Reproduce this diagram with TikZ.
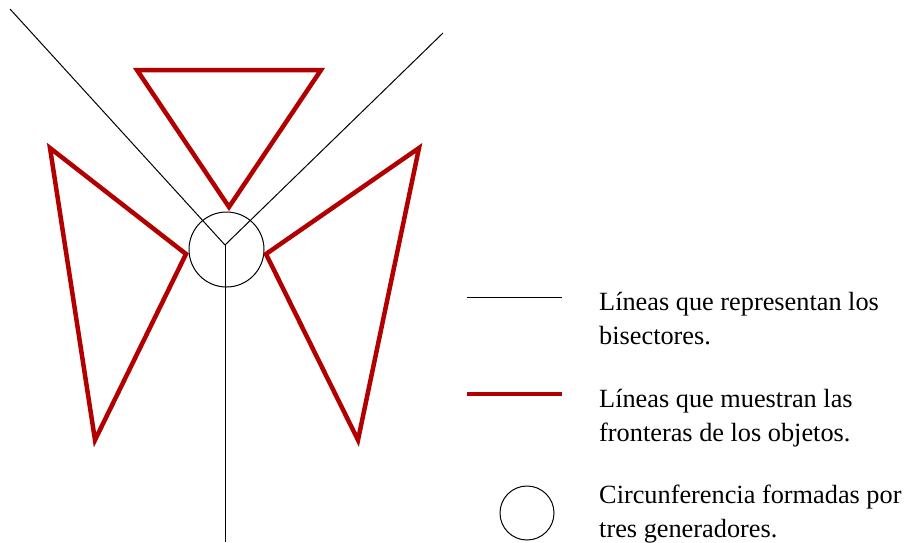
\documentclass[tikz,border=0pt]{standalone}
\usepackage{fontspec}
\setmainfont{Liberation Serif}
\definecolor{frontera}{RGB}{178, 0, 0}
\usetikzlibrary{positioning}
\tikzset{
  bisector/.style={draw=black, line width=1pt},
  borde/.style={draw=frontera, line width=4.5pt, line join=miter},
  leyenda/.style={anchor=base west, align=left, inner sep=0pt, font=\fontsize{26.3}{34}\selectfont}
}

\begin{document}
\begin{tikzpicture}[x=1pt, y=-1pt]
        \useasboundingbox (0,0) rectangle (904,542);

        % Bisectores desde el centro
        \coordinate (centro) at (225,245);
        \coordinate (bisA) at (10,9);
        \coordinate (bisB) at (443,33);
        \coordinate (bisC) at (225,542);
        \foreach \extremo in {bisA, bisB, bisC} {
            \draw[bisector] (centro) -- (\extremo);
        }

        % Circunferencia de los tres generadores
        \draw[bisector] (226.5,249.5) circle[radius=37.5];

        % Fronteras de los objetos
        \draw[borde] (137,70) -- (321,70) -- (229,207) -- cycle;
        \draw[borde] (50,148) -- (186,254) -- (95,440) -- cycle;
        \draw[borde] (419,148) -- (266,254) -- (358,440) -- cycle;

        % Leyenda
        \coordinate (lineaA) at (467,297);
        \coordinate (lineaB) at (467,394);
        \draw[bisector] (lineaA) -- ++(95,0);
        \draw[borde, line cap=butt] (lineaB) -- ++(95,0);
        \draw[bisector] (527,513) circle[radius=27];

        \node[leyenda] (txtBis) at (599,344) {Líneas que representan los\\bisectores.};
        \node[leyenda] (txtFront) at (599,441) {Líneas que muestran las\\fronteras de los objetos.};
        \node[leyenda] (txtCirc) at (599,537) {Circunferencia formadas por\\tres generadores.};
    \end{tikzpicture}
\end{document}
